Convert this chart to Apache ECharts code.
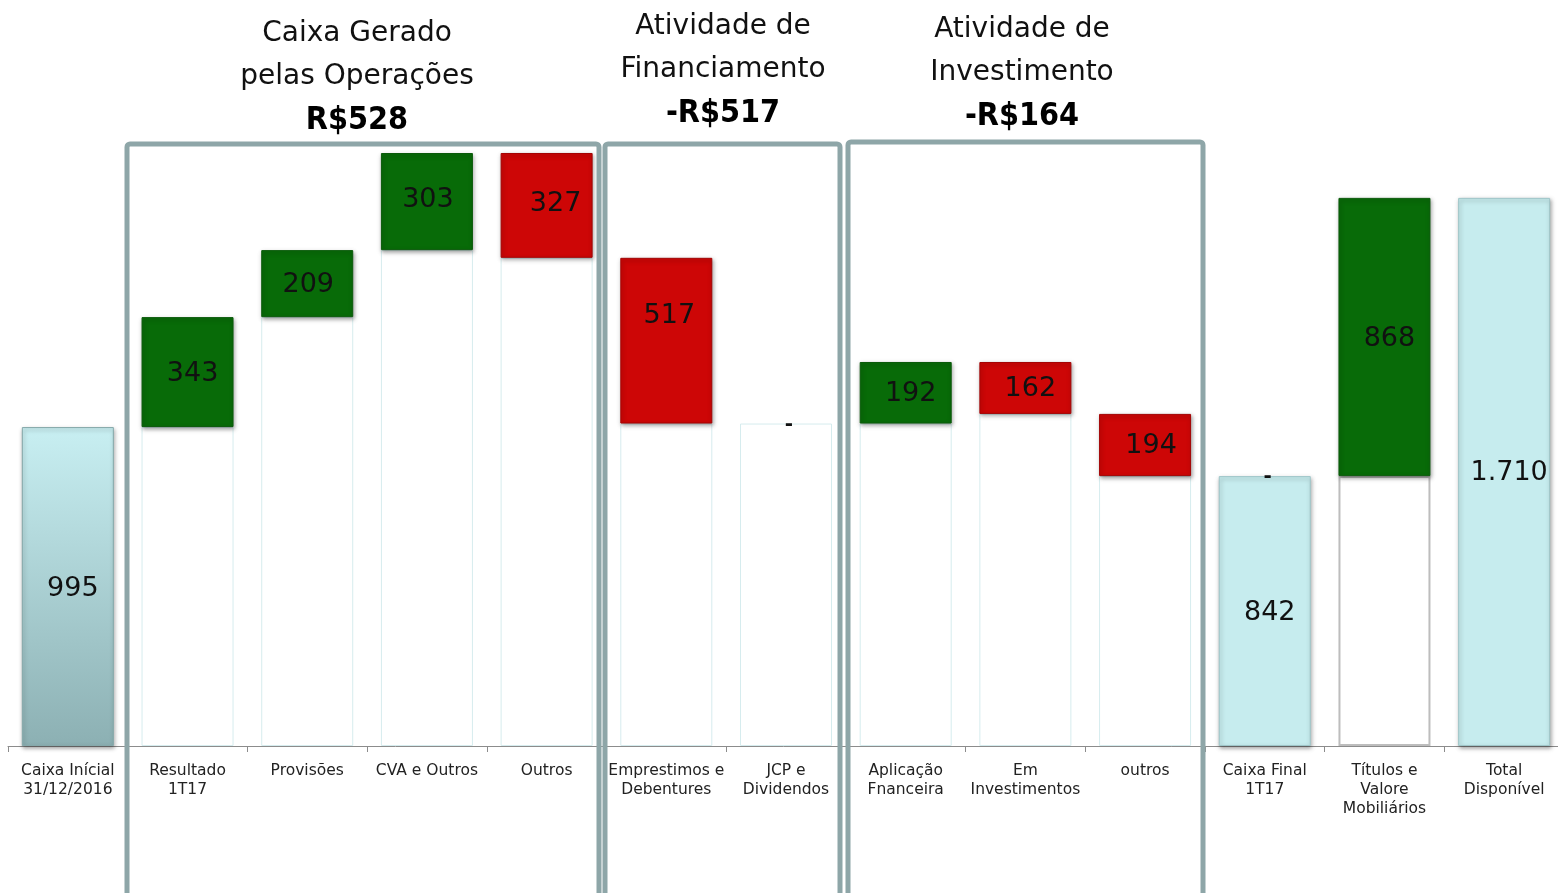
<!DOCTYPE html>
<html>
<head>
<meta charset="utf-8">
<script src="https://cdn.jsdelivr.net/npm/echarts@6/dist/echarts.min.js"></script>
<style>
  html, body { margin: 0; padding: 0; background: #fff; }
  #chart { width: 1558px; height: 893px; }
</style>
</head>
<body>
<div id="chart"></div>
<script>
// categorias do eixo x
const categories = [
  'Caixa Inícial\n31/12/2016', 'Resultado\n1T17', 'Provisões', 'CVA e Outros', 'Outros',
  'Emprestimos e\nDebentures', 'JCP e\nDividendos',
  'Aplicação\nFnanceira', 'Em\nInvestimentos', 'outros',
  'Caixa Final\n1T17', 'Títulos e\nValore\nMobiliários', 'Total\nDisponível'
];
// variação de caixa (R$ milhões); totais como valor absoluto
const flows = [995, 343, 209, 303, -327, -517, 0, 192, -162, -194, 842, 868, 1710];
const kinds = ['total', 'up', 'up', 'up', 'down', 'down', 'zero', 'up', 'down', 'down', 'total', 'up', 'total'];
const valueLabels = ['995', '343', '209', '303', '327', '517', '-', '192', '162', '194', '842', '868', '1.710'];

// blocos de títulos
const groupTitles = [
  { lines: ['Caixa Gerado', 'pelas Operações'], total: 'R$528' },
  { lines: ['Atividade de', 'Financiamento'], total: '-R$517' },
  { lines: ['Atividade de', 'Investimento'], total: '-R$164' }
];

const FONT = 'DejaVu Sans';

// base invisível do waterfall
let running = 0;
const baseData = [], barData = [], markData = [];
flows.forEach((v, i) => {
  const k = kinds[i];
  if (k === 'total') {
    baseData.push('-');
    barData.push(v);
    running = v;
  } else if (k === 'up') {
    baseData.push(running);
    barData.push(v);
    running += v;
  } else if (k === 'down') {
    running += v;
    baseData.push(running);
    barData.push(-v);
  } else {
    baseData.push(running);
    barData.push('-');
  }
  markData.push((k === 'zero' || i === 10) ? 0 : '-');
});

const GREEN = '#086b08', RED = '#cd0606', CYAN = '#c6ecee';
const shadow = { shadowColor: 'rgba(0,0,0,0.35)', shadowBlur: 4, shadowOffsetX: 1, shadowOffsetY: 2 };

// ajustes finos de posição dos rótulos
const labelNudge = { 0: [5, 2], 1: [5, 2], 2: [1, 1], 3: [1, -2], 4: [9, -1], 5: [3, -25], 7: [5, 1], 8: [5, 1], 9: [6, 1], 10: [5, 2], 11: [5, 2], 12: [5, 1] };

function barItem(v, i) {
  if (v === '-') return '-';
  const k = kinds[i];
  let style;
  if (k === 'total' && i === 0) {
    style = {
      color: new echarts.graphic.LinearGradient(0, 0, 0, 1, [
        { offset: 0, color: '#c8eff2' }, { offset: 1, color: '#8cb0b3' }
      ]),
      borderColor: '#86a9ab', borderWidth: 1
    };
  } else if (k === 'total') {
    style = { color: CYAN, borderColor: '#9fc6c9', borderWidth: 1 };
  } else if (k === 'up') {
    style = { color: GREEN, borderColor: '#0b5a0b', borderWidth: 1 };
  } else {
    style = { color: RED, borderColor: '#a30404', borderWidth: 1 };
  }
  return {
    value: v,
    itemStyle: Object.assign(style, shadow),
    label: { offset: labelNudge[i] || [0, 0] }
  };
}

const graphics = [];
const boxes = [
  { x: 127, y: 144, w: 472, tx: 357, ty: 12 },
  { x: 605, y: 144, w: 235, tx: 723, ty: 5 },
  { x: 848, y: 142, w: 355, tx: 1022, ty: 8 }
];
boxes.forEach((b, i) => {
  graphics.push({
    type: 'rect', z: 100,
    shape: { x: b.x, y: b.y, width: b.w, height: 800, r: 3 },
    style: { fill: 'none', stroke: '#8ea6a8', lineWidth: 5 }
  });
  const t = groupTitles[i];
  graphics.push({
    type: 'text', z: 100, x: b.tx, y: b.ty,
    style: {
      text: '{n|' + t.lines[0] + '}\n{n|' + t.lines[1] + '}\n{b|' + t.total + '}',
      align: 'center',
      rich: {
        n: { fontFamily: FONT, fontSize: 28, lineHeight: 43, fill: '#111' },
        b: { fontFamily: 'DejaVu Sans Condensed', fontSize: 32, fontWeight: 'bold', lineHeight: 46, fill: '#000' }
      }
    }
  });
});

const chart = echarts.init(document.getElementById('chart'));
chart.setOption({
  animation: false,
  backgroundColor: '#fff',
  grid: { left: 8, width: 1556, top: 153, bottom: 147, outerBoundsMode: 'none', containLabel: false },
  xAxis: {
    type: 'category',
    data: categories,
    axisLine: { lineStyle: { color: '#8c8c8c', width: 1 } },
    axisTick: { show: true, length: 6, lineStyle: { color: '#8c8c8c' } },
    axisLabel: {
      interval: 0, margin: 15, color: '#222',
      fontFamily: FONT, fontSize: 15.5, lineHeight: 19
    }
  },
  yAxis: {
    type: 'value', min: 0, max: 1850, show: false,
    splitLine: { show: false }
  },
  series: [
    {
      name: 'base', type: 'bar', stack: 'w', barWidth: 92,
      data: baseData.map((v, i) => v === '-' ? '-' : {
        value: v,
        itemStyle: {
          color: '#fff',
          borderColor: i === 11 ? '#bdbdbd' : '#d6ecee',
          borderWidth: i === 11 ? 2 : 1
        }
      }),
      silent: true
    },
    {
      name: 'fluxo', type: 'bar', stack: 'w', barWidth: 92,
      data: barData.map(barItem),
      label: {
        show: true, position: 'inside',
        fontFamily: FONT, fontSize: 27, color: '#111',
        formatter: p => valueLabels[p.dataIndex]
      }
    },
    {
      name: 'zero', type: 'bar', stack: 'w', barWidth: 92,
      data: markData,
      itemStyle: { color: 'transparent' },
      label: {
        show: true, position: 'inside', formatter: '-',
        fontFamily: FONT, fontSize: 20, fontWeight: 'bold', color: '#111', offset: [3, 1]
      }
    }
  ],
  graphic: graphics
});
</script>
</body>
</html>
